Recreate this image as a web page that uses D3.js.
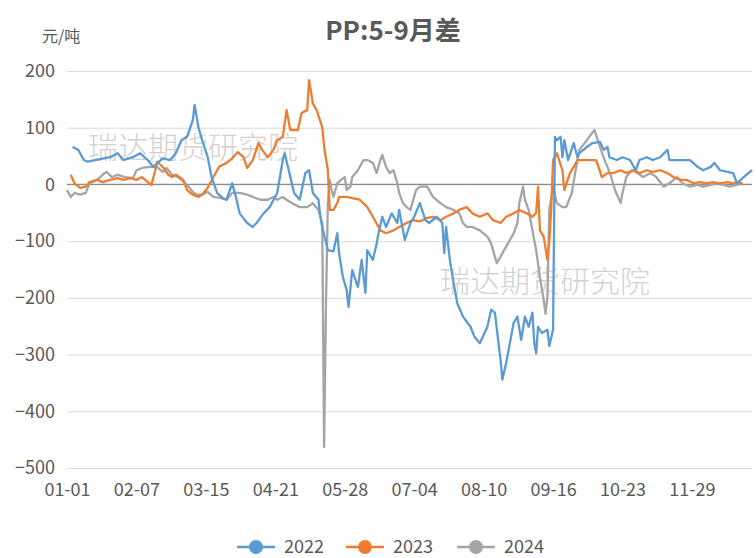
<!DOCTYPE html>
<meta charset="utf-8">

<style>
  body { margin: 0; background: #fff; }
  text { font-family: "Noto Sans CJK SC", "Noto Sans", sans-serif; }
</style>

<svg class="chart"></svg>

<script src="https://d3js.org/d3.v7.min.js"></script>
<script>

  var width  = 756;
  var height = 558;

  var years  = ["2022", "2023", "2024"];
  var colors = ["#5b9bd5", "#ed7d31", "#a5a5a5"];

  var yTicks = [200, 100, 0, -100, -200, -300, -400, -500];

  // tick labels every 37 days, leap-year calendar
  var xTickLabels = ["01-01", "02-07", "03-15", "04-21", "05-28",
                     "07-04", "08-10", "09-16", "10-23", "11-29"];

  var s2022 = [
    ["01-04", 66], ["01-07", 61], ["01-10", 43], ["01-12", 40], ["01-24", 48],
    ["01-28", 55], ["01-31", 43], ["02-05", 48], ["02-09", 55], ["02-13", 43],
    ["02-16", 31], ["02-21", 46], ["02-25", 43], ["02-28", 55], ["03-02", 78],
    ["03-05", 84], ["03-08", 113], ["03-09", 140], ["03-11", 101], ["03-13", 78],
    ["03-16", 48], ["03-18", 13], ["03-21", -15], ["03-24", -24], ["03-26", -27],
    ["03-29", 2], ["03-31", -22], ["04-02", -51], ["04-06", -68], ["04-09", -75],
    ["04-11", -68], ["04-14", -54], ["04-18", -40], ["04-22", -15], ["04-25", 43],
    ["04-26", 55], ["04-29", 13], ["05-01", -15], ["05-04", -27], ["05-07", 20],
    ["05-09", 25], ["05-11", -15], ["05-14", -27], ["05-15", -57], ["05-16", -75],
    ["05-19", -116], ["05-22", -118], ["05-24", -86], ["05-25", -122], ["05-27", -163],
    ["05-29", -186], ["05-30", -216], ["06-01", -151], ["06-04", -181], ["06-06", -133],
    ["06-08", -191], ["06-09", -116], ["06-12", -133], ["06-14", -104], ["06-15", -86],
    ["06-17", -57], ["06-19", -75], ["06-22", -51], ["06-25", -68], ["06-26", -45],
    ["06-29", -98], ["07-02", -68], ["07-04", -57], ["07-07", -33], ["07-10", -63],
    ["07-12", -68], ["07-16", -57], ["07-19", -68], ["07-20", -121], ["07-21", -75],
    ["07-23", -133], ["07-25", -174], ["07-27", -210], ["07-30", -233], ["08-03", -251],
    ["08-05", -268], ["08-08", -280], ["08-12", -251], ["08-14", -221], ["08-16", -226],
    ["08-19", -309], ["08-20", -344], ["08-22", -315], ["08-26", -244], ["08-28", -233],
    ["08-30", -274], ["09-01", -233], ["09-03", -251], ["09-05", -226], ["09-06", -280],
    ["09-07", -298], ["09-08", -251], ["09-10", -262], ["09-13", -256], ["09-14", -285],
    ["09-16", -256], ["09-17", 84], ["09-18", 78], ["09-20", 84], ["09-21", 48],
    ["09-22", 78], ["09-24", 43], ["09-27", 73], ["09-29", 48], ["09-30", 55],
    ["10-04", 66], ["10-07", 73], ["10-11", 75], ["10-13", 61], ["10-15", 66],
    ["10-16", 48], ["10-20", 43], ["10-23", 48], ["10-27", 43], ["10-30", 25],
    ["11-01", 43], ["11-05", 48], ["11-08", 43], ["11-12", 48], ["11-16", 61],
    ["11-17", 43], ["11-21", 43], ["11-24", 43], ["11-28", 43], ["12-02", 31],
    ["12-05", 25], ["12-09", 31], ["12-11", 38], ["12-14", 25], ["12-18", 22],
    ["12-21", 20], ["12-23", 2], ["12-26", 11], ["12-29", 20], ["12-31", 25]
  ];

  var s2023 = [
    ["01-03", 17], ["01-05", 2], ["01-08", -6], ["01-11", -4], ["01-13", 4],
    ["01-17", 8], ["01-20", 4], ["01-24", 8], ["01-28", 11], ["01-31", 8],
    ["02-04", 11], ["02-07", 8], ["02-10", 13], ["02-13", 4], ["02-15", -1],
    ["02-17", 25], ["02-18", 40], ["02-21", 31], ["02-24", 17], ["02-26", 13],
    ["02-28", 17], ["03-03", 8], ["03-05", -10], ["03-08", -18], ["03-11", -22],
    ["03-13", -18], ["03-16", -6], ["03-19", 13], ["03-21", 25], ["03-22", 31],
    ["03-26", 38], ["03-29", 46], ["04-01", 57], ["04-04", 48], ["04-06", 29],
    ["04-09", 43], ["04-12", 73], ["04-14", 61], ["04-17", 48], ["04-20", 61],
    ["04-22", 78], ["04-25", 84], ["04-27", 131], ["04-29", 96], ["05-03", 96],
    ["05-05", 126], ["05-08", 131], ["05-09", 184], ["05-11", 143], ["05-13", 131],
    ["05-16", 101], ["05-17", 66], ["05-19", 25], ["05-20", -45], ["05-22", -45],
    ["05-24", -33], ["05-25", -22], ["05-29", -22], ["06-01", -24], ["06-05", -27],
    ["06-09", -40], ["06-12", -57], ["06-16", -81], ["06-19", -86], ["06-23", -81],
    ["06-26", -75], ["06-30", -68], ["07-03", -63], ["07-07", -65], ["07-11", -59],
    ["07-14", -57], ["07-18", -63], ["07-21", -57], ["07-25", -51], ["07-28", -45],
    ["08-01", -40], ["08-04", -51], ["08-08", -57], ["08-12", -51], ["08-15", -63],
    ["08-19", -68], ["08-22", -57], ["08-26", -51], ["08-29", -45], ["09-02", -51],
    ["09-05", -57], ["09-07", -50], ["09-08", -4], ["09-09", -81], ["09-11", -92],
    ["09-13", -133], ["09-14", -100], ["09-15", -45], ["09-16", 43], ["09-18", 55],
    ["09-21", 25], ["09-22", -10], ["09-25", 20], ["09-27", 31], ["09-29", 43],
    ["10-04", 43], ["10-09", 43], ["10-12", 13], ["10-15", 20], ["10-18", 20],
    ["10-22", 25], ["10-25", 20], ["10-29", 25], ["11-01", 20], ["11-05", 25],
    ["11-08", 22], ["11-12", 25], ["11-16", 20], ["11-19", 13], ["11-23", 8],
    ["11-26", 8], ["11-30", 2], ["12-03", 4], ["12-07", 2], ["12-10", 4],
    ["12-14", 2], ["12-18", 4], ["12-21", 2], ["12-23", 4], ["12-26", 2]
  ];

  var s2024 = [
    ["01-01", -10], ["01-03", -22], ["01-05", -15], ["01-08", -18], ["01-11", -15],
    ["01-13", 2], ["01-17", 8], ["01-20", 17], ["01-22", 22], ["01-25", 13],
    ["01-28", 17], ["02-01", 13], ["02-05", 11], ["02-06", 17], ["02-07", 25],
    ["02-10", 29], ["02-14", 31], ["02-18", 31], ["02-21", 22], ["02-23", 29],
    ["02-26", 17], ["02-29", 13], ["03-02", 8], ["03-05", -1], ["03-08", -13],
    ["03-10", -18], ["03-13", -18], ["03-16", -13], ["03-19", -22], ["03-23", -24],
    ["03-26", -27], ["03-29", -15], ["04-02", -15], ["04-06", -18], ["04-09", -22],
    ["04-13", -27], ["04-17", -27], ["04-20", -22], ["04-22", -27], ["04-25", -22],
    ["04-27", -27], ["04-30", -33], ["05-04", -40], ["05-08", -40], ["05-11", -33],
    ["05-14", -45], ["05-16", -68], ["05-17", -463], ["05-18", -210], ["05-19", -33],
    ["05-20", 8], ["05-21", -10], ["05-22", -22], ["05-24", 2], ["05-26", 8],
    ["05-28", 13], ["05-29", -10], ["05-31", -4], ["06-01", 13], ["06-04", 25],
    ["06-07", 43], ["06-09", 43], ["06-12", 38], ["06-14", 20], ["06-16", 43],
    ["06-17", 52], ["06-19", 31], ["06-21", 20], ["06-23", 25], ["06-25", 2],
    ["06-26", -15], ["06-28", -33], ["06-30", -40], ["07-02", -45], ["07-03", -33],
    ["07-05", -10], ["07-07", -4], ["07-11", -4], ["07-14", -22], ["07-18", -33],
    ["07-21", -40], ["07-25", -45], ["07-28", -51], ["07-30", -68], ["08-01", -75],
    ["08-04", -75], ["08-08", -81], ["08-12", -92], ["08-14", -104], ["08-17", -139],
    ["08-19", -128], ["08-20", -121], ["08-23", -104], ["08-26", -86], ["08-28", -68],
    ["08-29", -33], ["08-31", -4], ["09-01", -27], ["09-03", -45], ["09-05", -81],
    ["09-07", -116], ["09-09", -163], ["09-11", -204], ["09-12", -228], ["09-13", -198],
    ["09-14", -45], ["09-16", -4], ["09-18", -33], ["09-21", -40], ["09-23", -40],
    ["09-26", -15], ["09-28", 25], ["09-30", 61], ["10-04", 78], ["10-08", 96],
    ["10-11", 66], ["10-14", 38], ["10-15", 31], ["10-17", 13], ["10-19", -10],
    ["10-22", -33], ["10-23", -15], ["10-25", 13], ["10-28", 25], ["10-31", 20],
    ["11-03", 13], ["11-07", 20], ["11-10", 13], ["11-14", -4], ["11-17", 2],
    ["11-21", 13], ["11-24", 2], ["11-28", -4], ["12-02", -1], ["12-05", -4],
    ["12-09", -1], ["12-12", 2], ["12-16", -1], ["12-19", -4], ["12-23", -1],
    ["12-26", 2]
  ];

  var series = [s2022, s2023, s2024];

  var parseDay = d3.timeParse("%Y-%m-%d");
  function toDate(md) { return parseDay("2024-" + md); }

  var margin = { left: 67, right: 4, top: 71, bottom: 90 };

  var x = d3.scaleTime()
      .domain([toDate("01-01"), toDate("12-31")])
      .range([margin.left, width - margin.right]);

  var y = d3.scaleLinear()
      .domain([-500, 200])
      .range([height - margin.bottom, margin.top]);

  var chart = d3.select(".chart")
      .attr("width", width)
      .attr("height", height);

  // title and unit
  chart.append("text")
      .attr("x", 393)
      .attr("y", 40)
      .attr("text-anchor", "middle")
      .attr("font-size", 26)
      .attr("font-weight", "bold")
      .attr("fill", "#595959")
      .text("PP:5-9月差");

  chart.append("text")
      .attr("x", 42)
      .attr("y", 42)
      .attr("font-size", 16)
      .attr("fill", "#595959")
      .text("元/吨");

  // y grid + labels
  var yAxis = chart.append("g")
      .attr("transform", "translate(" + margin.left + ",0)")
      .call(d3.axisLeft(y)
        .tickValues(yTicks)
        .tickSize(-(width - margin.left - margin.right))
        .tickPadding(12));

  yAxis.select(".domain").remove();
  yAxis.selectAll(".tick line")
      .attr("stroke", "#d9d9d9");
  yAxis.selectAll(".tick text")
      .attr("font-size", 18)
      .attr("fill", "#595959");

  // x axis labels below the plot
  var xAxis = chart.append("g")
      .attr("transform", "translate(0," + (height - margin.bottom) + ")")
      .call(d3.axisBottom(x)
        .tickValues(xTickLabels.map(toDate))
        .tickFormat(d3.timeFormat("%m-%d"))
        .tickSize(0)
        .tickPadding(15));

  xAxis.select(".domain").remove();
  xAxis.selectAll(".tick text")
      .attr("font-size", 18)
      .attr("fill", "#595959");

  // watermarks
  var marks = [[88, 158], [440, 292]];
  chart.append("g")
    .selectAll("text")
    .data(marks)
    .enter().append("text")
      .attr("x", function(d) { return d[0]; })
      .attr("y", function(d) { return d[1]; })
      .attr("font-size", 30)
      .attr("font-weight", 300)
      .attr("fill", "#c8c8c8")
      .attr("opacity", 0.8)
      .text("瑞达期货研究院");

  // zero line
  chart.append("line")
      .attr("x1", margin.left)
      .attr("x2", width - margin.right)
      .attr("y1", y(0))
      .attr("y2", y(0))
      .attr("stroke", "#8c8c8c")
      .attr("stroke-width", 1.2);

  var line = d3.line()
      .x(function(d) { return x(toDate(d[0])); })
      .y(function(d) { return y(d[1]); });

  // draw 2024 first so 2022 sits on top
  var order = [2, 1, 0];
  chart.append("g")
    .selectAll("path")
    .data(order)
    .enter().append("path")
      .attr("d", function(i) { return line(series[i]); })
      .attr("fill", "none")
      .attr("stroke", function(i) { return colors[i]; })
      .attr("stroke-width", 2.3)
      .attr("stroke-linejoin", "round");

  // legend
  var legendX = [237, 346, 457];
  var legend = chart.append("g")
    .selectAll("g")
    .data(years)
    .enter().append("g")
      .attr("transform", function(d, i) { return "translate(" + legendX[i] + ",547)"; });

  legend.append("line")
      .attr("x1", 0)
      .attr("x2", 38)
      .attr("stroke", function(d, i) { return colors[i]; })
      .attr("stroke-width", 2.3);

  legend.append("circle")
      .attr("cx", 19)
      .attr("r", 7)
      .attr("fill", function(d, i) { return colors[i]; });

  legend.append("text")
      .attr("x", 47)
      .attr("dy", "0.35em")
      .attr("font-size", 18)
      .attr("fill", "#595959")
      .text(function(d) { return d; });

</script>
